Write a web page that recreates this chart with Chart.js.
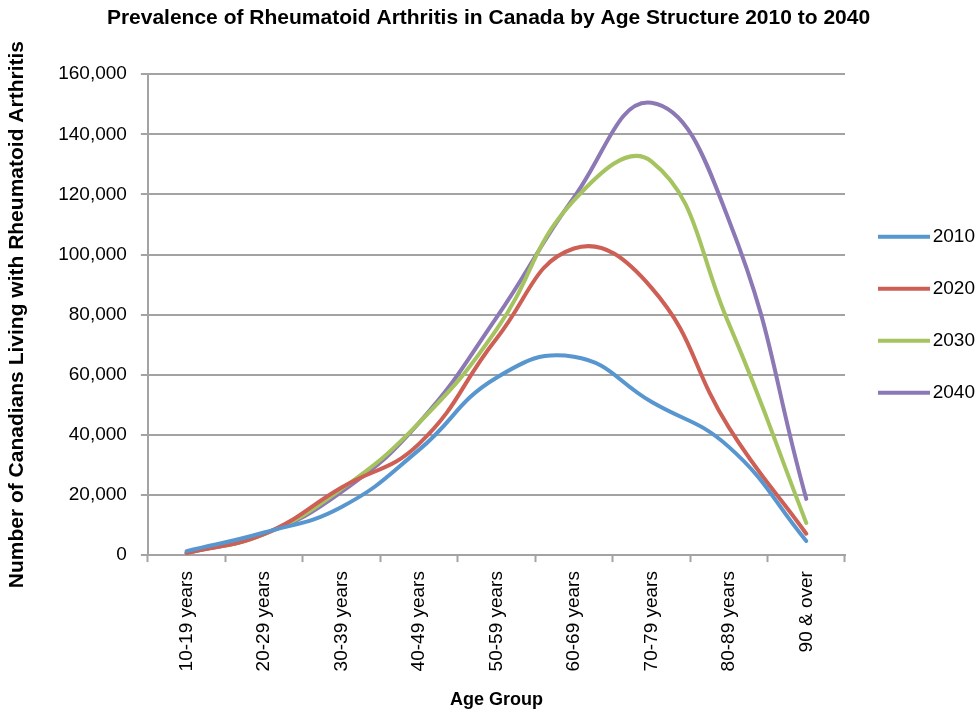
<!DOCTYPE html>
<html>
<head>
<meta charset="utf-8">
<script src="https://cdn.jsdelivr.net/npm/chart.js@4.4.0/dist/chart.umd.min.js"></script>
<style>
  html,body{margin:0;padding:0;background:#fff;}
  #wrap{width:979px;height:714px;}
</style>
</head>
<body>
<div id="wrap"><canvas id="chart" width="979" height="714"></canvas></div>
<script>
// data
const ageGroups=['10-19 years','20-29 years','30-39 years','40-49 years','50-59 years','60-69 years','70-79 years','80-89 years','90 & over'];
const y2010=[1300,7500,16000,35000,59000,66000,51000,36000,4700];
const y2020=[700,7000,22500,37000,72000,102000,89000,42500,7100];
const y2030=[700,7000,22000,44000,75000,118000,131000,77000,10700];
const y2040=[700,7000,21000,44000,79000,119000,150500,111500,18700];
const seriesNames=['2010','2020','2030','2040'];
const colors=['#5896cf','#cd5f55','#a5c35f','#8c78b4'];

const FONT='"Liberation Sans", Arial, sans-serif';
const gridColor='#a3a3a3';

const values=[y2010,y2020,y2030,y2040];
const datasets=seriesNames.map(function(name,i){
  return {
    label:name,
    data:values[i],
    borderColor:colors[i],
    backgroundColor:colors[i],
    borderWidth:4,
    borderCapStyle:'round',
    pointRadius:0,
    pointHoverRadius:0,
    tension:0.45,
    fill:false
  };
});

new Chart(document.getElementById('chart'),{
  type:'line',
  data:{labels:ageGroups,datasets:datasets},
  options:{
    responsive:false,
    animation:false,
    layout:{padding:{left:2,right:4,top:0,bottom:3}},
    plugins:{
      title:{
        display:true,
        fullSize:true,
        text:'Prevalence of Rheumatoid Arthritis in Canada by Age Structure 2010 to 2040',
        color:'#000',
        font:{family:FONT,size:21,weight:'bold'},
        padding:{top:6,bottom:43}
      },
      legend:{
        position:'right',
        align:'center',
        fullSize:false,
        maxWidth:130,
        labels:{
          usePointStyle:true,
          pointStyle:'line',
          pointStyleWidth:52,
          boxHeight:19,
          padding:33,
          textAlign:'right',
          color:'#000',
          font:{family:FONT,size:19}
        }
      },
      tooltip:{enabled:false}
    },
    scales:{
      x:{
        offset:true,
        grid:{
          display:true,
          offset:true,
          drawOnChartArea:false,
          drawTicks:true,
          tickLength:7,
          tickWidth:2,
          tickColor:gridColor
        },
        border:{display:true,color:gridColor,width:2},
        ticks:{
          minRotation:90,
          maxRotation:90,
          autoSkip:false,
          padding:9,
          color:'#000',
          font:{family:FONT,size:19}
        },
        title:{
          display:true,
          text:'Age Group',
          color:'#000',
          font:{family:FONT,size:18,weight:'bold'},
          padding:{top:9,bottom:0}
        }
      },
      y:{
        min:0,
        max:160000,
        grid:{
          color:gridColor,
          lineWidth:2,
          tickLength:7,
          tickWidth:2,
          tickColor:gridColor
        },
        border:{display:true,color:gridColor,width:2},
        ticks:{
          stepSize:20000,
          padding:14,
          color:'#000',
          font:{family:FONT,size:19},
          callback:function(v){return v.toLocaleString('en-US');}
        },
        title:{
          display:true,
          text:'Number of Canadians Living with Rheumatoid Arthritis',
          color:'#000',
          font:{family:FONT,size:21,weight:'bold'},
          padding:{top:3,bottom:14}
        }
      }
    }
  }
});
</script>
</body>
</html>
